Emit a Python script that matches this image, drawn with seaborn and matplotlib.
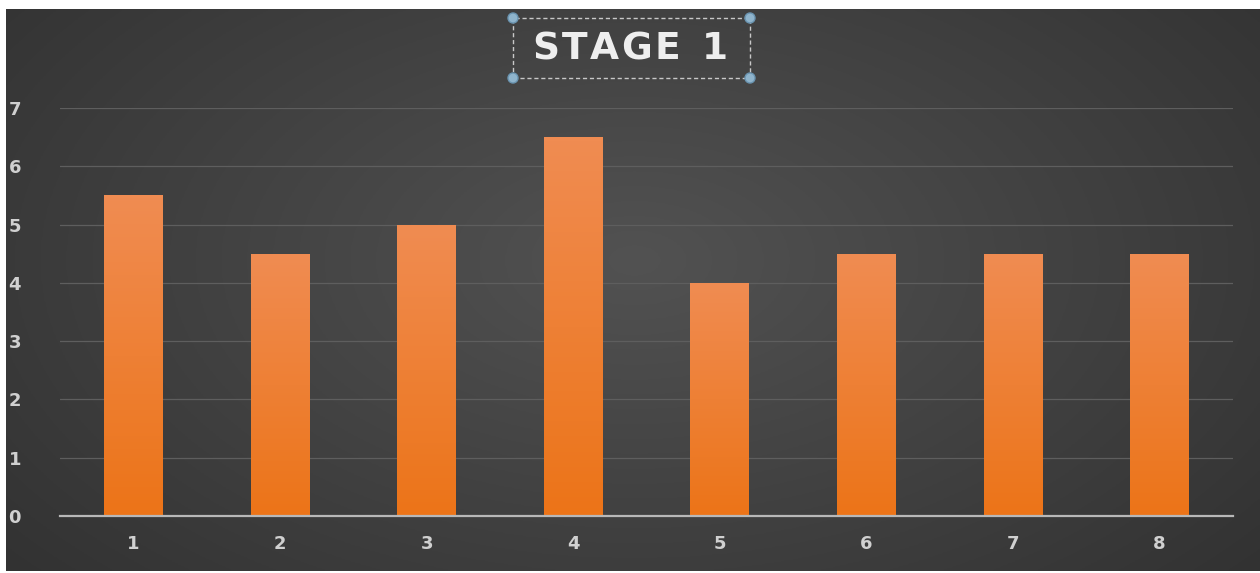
import numpy as np
import pandas as pd
import matplotlib
matplotlib.use("Agg")
import matplotlib.pyplot as plt
from matplotlib.patches import Rectangle, Circle
import seaborn as sns

categories = ["1", "2", "3", "4", "5", "6", "7", "8"]
values = [5.5, 4.5, 5.0, 6.5, 4.0, 4.5, 4.5, 4.5]
yticks = [0, 1, 2, 3, 4, 5, 6, 7]
title = "STAGE 1"

W, H = 1260, 573
fig = plt.figure(figsize=(W / 100, H / 100), dpi=100, facecolor="white")

# background gradient panel
bg = fig.add_axes([6 / W, 2 / H, 1254 / W, 562 / H])
bg.set_axis_off()
yy, xx = np.mgrid[0:200, 0:400]
cx, cy = 200, 110
d = np.sqrt(((xx - cx) / 280.0) ** 2 + ((yy - cy) / 180.0) ** 2)
d = np.clip(d, 0, 1)
c_in = np.array([0x52, 0x52, 0x52]) / 255
c_out = np.array([0x30, 0x30, 0x30]) / 255
img = c_in[None, None, :] * (1 - d[..., None]) + c_out[None, None, :] * d[..., None]
bg.imshow(img, aspect="auto", extent=[0, 1, 0, 1], origin="lower")
bg.set_xlim(0, 1)
bg.set_ylim(0, 1)

ax = fig.add_axes([60 / W, 1 - 516 / H, 1173 / W, 408 / H])
ax.patch.set_alpha(0)
df = pd.DataFrame({"cat": categories, "val": values})
sns.barplot(data=df, x="cat", y="val", color="#ee7d2c", width=0.4,
            saturation=1, ax=ax, zorder=3)
ax.set_xlim(-0.5, len(categories) - 0.5)
ax.set_ylim(0, 7)
ax.set_yticks(yticks)
ax.set_yticklabels([str(t) for t in yticks])
ax.set_xlabel("")
ax.set_ylabel("")

# gradient on bars
grad = np.linspace(0, 1, 100)[:, None]
top = np.array([0xf0, 0x8c, 0x52]) / 255
bot = np.array([0xec, 0x74, 0x18]) / 255
gimg = bot[None, None, :] * (1 - grad[..., None]) + top[None, None, :] * grad[..., None]
for p in ax.patches:
    x0, y0 = p.get_x(), p.get_y()
    w, h = p.get_width(), p.get_height()
    im = ax.imshow(gimg, aspect="auto", origin="lower",
                   extent=[x0, x0 + w, y0, y0 + h], zorder=3.5)
    im.set_clip_path(p)
ax.set_xlim(-0.5, len(categories) - 0.5)
ax.set_ylim(0, 7)

for s in ["top", "right", "left"]:
    ax.spines[s].set_visible(False)
ax.spines["bottom"].set_color("#b8b8b8")
ax.spines["bottom"].set_linewidth(1.6)
ax.spines["bottom"].set_zorder(5)
ax.grid(axis="y", color="#5e5e5e", linewidth=0.9, zorder=0)
ax.set_axisbelow(True)
ax.tick_params(axis="both", length=0, colors="#d0d0d0", labelsize=13)
ax.tick_params(axis="y", pad=37)
ax.tick_params(axis="x", pad=14)
for lab in ax.get_yticklabels() + ax.get_xticklabels():
    lab.set_fontweight("bold")
    lab.set_color("#d0d0d0")
for lab in ax.get_yticklabels():
    lab.set_horizontalalignment("left")

# title with letter spacing, centered
renderer = fig.canvas.get_renderer()
tfs = 27
spacing = 2.5  # px between letters
chars = list(title)
tmp = [fig.text(0, 0, ch if ch != " " else "S", fontsize=tfs, fontweight="bold")
       for ch in chars]
widths = []
for ch, t in zip(chars, tmp):
    wpx = t.get_window_extent(renderer).width
    widths.append(wpx * (0.6 if ch == " " else 1.0))
    t.remove()
total = sum(widths) + spacing * (len(chars) - 1)
xc, yc = 630, 1 - 49 / H
xpos = xc - total / 2
for ch, wpx in zip(chars, widths):
    if ch != " ":
        fig.text(xpos / W, yc, ch, ha="left", va="center", fontsize=tfs,
                 fontweight="bold", color="#eeeeee")
    xpos += wpx + spacing

bx0, bx1, by0, by1 = 513 / W, 750 / W, 1 - 78 / H, 1 - 18 / H
fig.add_artist(Rectangle((bx0, by0), bx1 - bx0, by1 - by0, fill=False,
                         edgecolor="#c8c8c8", linestyle=(0, (3, 2)),
                         linewidth=1.0, transform=fig.transFigure))
for hx, hy in [(bx0, by0), (bx0, by1), (bx1, by0), (bx1, by1)]:
    fig.add_artist(Circle((hx * W, hy * H), 5, transform=None,
                          facecolor="#8fb4cc", edgecolor="#6a94b0", linewidth=1))

fig.savefig("out.png", dpi=100, facecolor="white")
